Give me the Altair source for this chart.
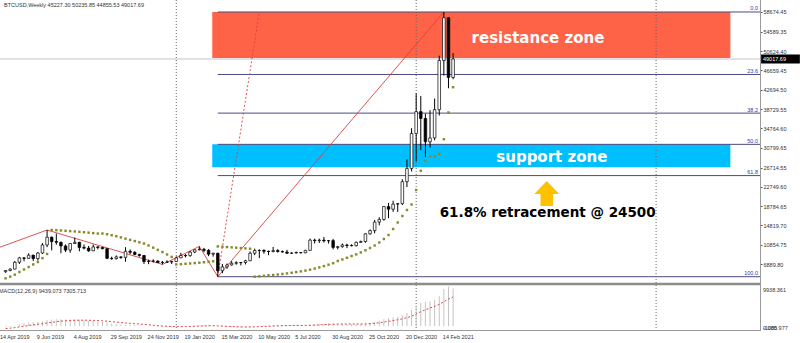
import altair as alt
import pandas as pd

# ---------------- weekly BTCUSD bars (week 0 = 21 Apr 2019) ----------------
opens = [5300, 5550, 5850, 7250, 8150, 8050, 8700, 8000, 9150, 10800,
         12400, 11500, 11350, 10600, 9750, 11100, 11350, 10300, 10150, 9600,
         10400, 10300, 10050, 8050, 8000, 8350, 8250, 9500, 9300, 8850,
         8650, 7400, 7450, 7500, 7200, 7250, 7300, 7400, 8150, 8650,
         8600, 9350, 9800, 9900, 9700, 8900, 9100, 5500, 6300, 6700,
         7050, 7150, 7200, 7550, 9100, 9650, 9700, 9500, 9450, 9650,
         9450, 9350, 9100, 9150, 9250, 9200, 9700, 11800, 11700, 11800,
         11650, 11700, 10300, 10450, 10800, 10700, 10650, 11350, 11500, 13100,
         13750, 15500, 16050, 18700, 18150, 19200, 19300, 23800, 26500, 33700,
         38200, 36800, 32000, 32800, 38600, 48700, 57500, 45227.30]
highs = [5650, 6000, 7500, 8350, 8300, 9090, 8800, 9350, 11200, 13880,
         12550, 13150, 11500, 10900, 11200, 12300, 11450, 10900, 10600, 10900,
         10550, 10400, 10100, 8400, 8650, 8450, 10350, 9900, 9500, 9000,
         8700, 7800, 7850, 7650, 7500, 7650, 7550, 8450, 9200, 8900,
         9550, 9900, 10500, 10200, 9950, 9200, 9200, 6900, 7000, 7450,
         7450, 7300, 7750, 9450, 10050, 9900, 9900, 9650, 10400, 9950,
         9650, 9800, 9300, 9450, 9350, 9800, 12100, 12100, 12100, 12450,
         11800, 12050, 10600, 11100, 11050, 10950, 11500, 11700, 13200, 14000,
         15950, 16500, 18800, 19450, 19900, 19400, 24300, 28400, 34800, 41950,
         41400, 37800, 38500, 40900, 49700, 58674.45, 57600, 50235.85]
lows = [5100, 5400, 5800, 6900, 7450, 8000, 7500, 7600, 8950, 10350,
        9700, 10850, 9100, 9350, 9200, 11000, 9500, 9900, 9400, 9550,
        9900, 9900, 7900, 7750, 7800, 7950, 7350, 8900, 8700, 8400,
        6900, 6850, 7200, 7100, 6800, 7100, 6900, 7350, 8100, 8250,
        8400, 9150, 9700, 9300, 8500, 8400, 4280, 5000, 5900, 6550,
        6750, 6600, 6800, 7500, 8700, 8100, 9000, 8700, 9300, 9250,
        9250, 8950, 8950, 9050, 9050, 9100, 9650, 11100, 11200, 11300,
        11100, 9900, 9900, 10250, 10150, 10500, 10500, 11250, 11250, 12900,
        13200, 14850, 15800, 16300, 17600, 17600, 19000, 22700, 25900, 28000,
        30300, 28900, 30800, 32300, 37400, 45600, 43000, 44855.53]
closes = [5550, 5850, 7250, 8150, 8050, 8700, 8000, 9150, 10800, 12400,
          11500, 11350, 10600, 9750, 11100, 11350, 10300, 10150, 9600, 10400,
          10300, 10050, 8050, 8000, 8350, 8250, 9500, 9300, 8850, 8650,
          7400, 7450, 7500, 7200, 7250, 7300, 7400, 8150, 8650, 8600,
          9350, 9800, 9900, 9700, 8900, 9100, 5500, 6300, 6700, 7050,
          7150, 7200, 7550, 9100, 9650, 9700, 9500, 9450, 9650, 9450,
          9350, 9100, 9150, 9250, 9200, 9700, 11800, 11700, 11800, 11650,
          11700, 10300, 10450, 10800, 10700, 10650, 11350, 11500, 13100, 13750,
          15500, 16050, 18700, 18150, 19200, 19300, 23800, 26500, 33700, 38200,
          36800, 32000, 32800, 38600, 48700, 57500, 45227.30, 49017.69]

# Parabolic SAR dots
sar = [3950, 4300, 4700, 5250, 5760, 6270, 6800, 7300, 8100, 8950,
       13880, 13840, 13780, 13720, 13650, 13580, 13500, 13420, 13330, 13240,
       13150, 13150, 13000, 12800, 12600, 12350, 12100, 11850, 11600, 11350,
       11100, 10700, 10250, 9800, 9350, 8850, 8350, 6800, 6860, 6930,
       7000, 7080, 7160, 7250, 7350, 7450, 10500, 10440, 10380, 10310,
       10240, 10170, 10100, 10030, 4280, 4360, 4460, 4570, 4630, 4730,
       4840, 4960, 5080, 5230, 5370, 5540, 5720, 5950, 6190, 6460,
       6750, 7060, 7510, 7820, 8170, 8530, 8870, 9270, 9710, 10180,
       10690, 11310, 12030, 12850, 14080, 15420, 16750, 17990, 19120, 22100,
       26060, 28120, 29000, 29080, 29500, 32520, 38020, 43220]

# MACD(12,26,9): main (histogram) and signal
macd_main = [-250, -120, 150, 450, 700, 900, 1000, 1100, 1250, 1500,
             1650, 1750, 1750, 1700, 1700, 1700, 1600, 1500, 1400, 1300,
             1200, 1100, 900, 700, 550, 420, 380, 330, 260, 180,
             30, -80, -160, -240, -290, -320, -330, -250, -150, -80,
             20, 130, 220, 270, 240, 220, -50, -200, -300, -330,
             -340, -330, -290, -170, -30, 80, 150, 200, 250, 270,
             270, 250, 230, 210, 190, 210, 350, 470, 580, 650,
             700, 660, 620, 590, 560, 520, 520, 540, 680, 850,
             1100, 1350, 1750, 1950, 2200, 2350, 2800, 3300, 4100, 5200,
             5900, 6100, 6200, 6600, 7500, 9300, 9938.361, 9439.073]
macd_signal = [-600, -500, -370, -200, -20, 160, 330, 480, 640, 800,
               970, 1120, 1250, 1340, 1410, 1470, 1500, 1500, 1480, 1450,
               1400, 1340, 1250, 1140, 1020, 900, 800, 710, 620, 530,
               430, 330, 230, 140, 50, -20, -80, -110, -120, -110,
               -90, -40, 10, 60, 90, 110, 80, 20, -40, -100,
               -150, -190, -210, -200, -170, -120, -70, -20, 30, 80,
               120, 150, 170, 180, 185, 190, 220, 270, 330, 390,
               450, 490, 520, 530, 540, 540, 535, 535, 560, 620,
               720, 850, 1030, 1210, 1410, 1600, 1840, 2130, 2530, 3060,
               3630, 4120, 4540, 4950, 5460, 6130, 6790, 7305.713]

# ZigZag pivots (week, price)
zz_week = [-22, 9, 34, 42, 46, 95]
zz_price = [3150, 13880, 6800, 10500, 4280, 58674.45]

# Fibonacci retracement anchors and levels
fib_week = [46, 55]
fib_price = [4280.0, 58674.45]
fib_ratios = [0.0, 23.6, 38.2, 50.0, 61.8, 100.0]

# Zone rectangles
zone_week = [44.8, 157.1]
zone_top = [58674.45, 31480]
zone_bottom = [49200, 26760]
zone_color = ["#FF6347", "#00BFFF"]

# Annotation texts
ann_text = ["resistance zone", "support zone", "61.8% retracement @ 24500"]
ann_week = [115.4, 118.4, 117.5]
ann_price = [53330, 28880, 17370]
ann_color = ["white", "white", "black"]
ann_size = [15, 15, 13.5]
arrow_week = [117.3]
arrow_price = [21378]

# Year separators, bid, axis labels
year_week = [37, 89, 141]
bid = 49017.69
price_ticks = [58674.45, 54589.35, 50624.40, 46659.45, 42694.50, 38729.55, 34764.60,
               30799.65, 26714.55, 22749.60, 18784.65, 14819.70, 10854.75, 6889.80, 2924.85]
date_week = [-1, 7, 15, 23, 31, 39, 47, 55, 63, 71, 79, 87, 95]
date_text = ["14 Apr 2019", "9 Jun 2019", "4 Aug 2019", "29 Sep 2019", "24 Nov 2019",
             "19 Jan 2020", "15 Mar 2020", "10 May 2020", "5 Jul 2020", "30 Aug 2020",
             "25 Oct 2020", "20 Dec 2020", "14 Feb 2021"]
header = "BTCUSD,Weekly  45227.30 50235.85 44855.53 49017.69"
macd_header = "MACD(12,26,9) 9439.073 7305.713"

# ---------------- scales ----------------
x_scale = alt.Scale(domain=[-0.123, 162.44], nice=False, zero=False)
price_scale = alt.Scale(domain=[2986.5, 61140.0], range=[283, 0], nice=False, zero=False)
macd_scale = alt.Scale(domain=[-1085.977, 9938.361], range=[330.5, 286.5], nice=False, zero=False)

SMALL = "Liberation Sans"
RED = "#D9413F"
FIB_COLOR = "#4B4B80"


def X(field):
    return alt.X(f"{field}:Q", scale=x_scale, axis=None)


def P(field, axis=None):
    return alt.Y(f"{field}:Q", scale=price_scale, axis=axis)


def M(field):
    return alt.Y(f"{field}:Q", scale=macd_scale, axis=None)


n = len(opens)
weeks = list(range(n))
candles = pd.DataFrame({"i": weeks, "open": opens, "high": highs, "low": lows, "close": closes})
sar_df = pd.DataFrame({"i": weeks, "sar": sar})
macd_df = pd.DataFrame({"i": weeks, "macd": macd_main, "signal": macd_signal, "zero": [0.0] * n})

hi, lo = fib_price[1], fib_price[0]
fib_df = pd.DataFrame({
    "ratio": fib_ratios,
    "price": [hi - r / 100.0 * (hi - lo) for r in fib_ratios],
    "label": [f"{r:.1f}" for r in fib_ratios],
    "x0": [fib_week[0]] * len(fib_ratios),
    "x1": [175] * len(fib_ratios),
})
zones = pd.DataFrame({"x0": [zone_week[0]] * 2, "x1": [zone_week[1]] * 2,
                      "top": zone_top, "bottom": zone_bottom, "color": zone_color})

layers = []

# zones
layers.append(alt.Chart(zones).mark_rect().encode(
    x=X("x0"), x2="x1", y=P("top"), y2="bottom", color=alt.Color("color:N", scale=None)))

# current price line
layers.append(alt.Chart(pd.DataFrame({"bid": [bid]})).mark_rule(color="#C4C4C4", strokeWidth=1).encode(
    y=P("bid"), x=alt.value(0), x2=alt.value(760)))

# fibonacci levels
layers.append(alt.Chart(fib_df).mark_rule(color=FIB_COLOR, strokeWidth=1, clip=True).encode(
    x=X("x0"), x2="x1", y=P("price")))
layers.append(alt.Chart(fib_df).mark_text(align="right", baseline="bottom", dy=-0.5, fontSize=5.5,
                                          font=SMALL, color="#3A3AA8").encode(
    x=alt.value(758), y=P("price"), text="label:N"))

# year separators
layers.append(alt.Chart(pd.DataFrame({"w": year_week})).mark_rule(
    color="#666666", strokeDash=[1, 2], strokeWidth=1).encode(
    x=X("w"), y=alt.value(0), y2=alt.value(331)))

# zigzag and fibonacci diagonal
layers.append(alt.Chart(pd.DataFrame({"i": zz_week, "p": zz_price})).mark_line(
    color=RED, strokeWidth=0.9, clip=True).encode(x=X("i"), y=P("p")))
layers.append(alt.Chart(pd.DataFrame({"i": fib_week, "p": fib_price})).mark_line(
    color=RED, strokeWidth=0.9, strokeDash=[2, 2], clip=True).encode(x=X("i"), y=P("p")))

# candles: wicks (carry the price axis) then bodies
price_axis = alt.Axis(orient="right", values=price_ticks, format=".2f", labelFontSize=5.5,
                      labelFont=SMALL, labelColor="#333333", tickSize=2, tickColor="#555555",
                      domain=False, grid=False, title=None, labelPadding=1, labelOverlap=False)
layers.append(alt.Chart(candles).mark_rule(color="black", strokeWidth=1).encode(
    x=X("i"), y=P("low", price_axis), y2="high"))
layers.append(alt.Chart(candles).mark_bar(size=2.6, stroke="black", strokeWidth=0.7).encode(
    x=X("i"), y=P("open"), y2="close",
    fill=alt.condition("datum.close >= datum.open", alt.value("white"), alt.value("black"))))

# parabolic SAR
layers.append(alt.Chart(sar_df).mark_square(size=6, color="#8A8A2A", opacity=1).encode(
    x=X("i"), y=P("sar")))

# annotations
ann_df = pd.DataFrame({"i": ann_week, "p": ann_price, "t": ann_text, "c": ann_color, "s": ann_size})
layers.append(alt.Chart(ann_df).mark_text(font="DejaVu Sans", fontWeight="bold",
                                          align="center", baseline="middle").encode(
    x=X("i"), y=P("p"), text="t:N", color=alt.Color("c:N", scale=None),
    size=alt.Size("s:Q", scale=None, legend=None)))
ARROW = "M0,-1L1,0.04L0.5,0.04L0.5,1L-0.5,1L-0.5,0.04L-1,0.04Z"
layers.append(alt.Chart(pd.DataFrame({"i": arrow_week, "p": arrow_price})).mark_point(
    shape=ARROW, size=620, filled=True, fill="#FFC000", strokeWidth=0, opacity=1).encode(
    x=X("i"), y=P("p")))

# MACD panel
layers.append(alt.Chart(macd_df).mark_rule(color="#C4C4C4", strokeWidth=1).encode(
    x=X("i"), y=M("zero"), y2="macd"))
layers.append(alt.Chart(macd_df).mark_line(color="#E04848", strokeWidth=1, strokeDash=[2, 2]).encode(
    x=X("i"), y=M("signal")))

# frame lines
one = pd.DataFrame({"k": [0]})
layers.append(alt.Chart(one).mark_rule(color="#8C8C8C", strokeWidth=2.4).encode(
    y=alt.value(284), x=alt.value(0), x2=alt.value(760)))
layers.append(alt.Chart(one).mark_rule(color="#9A9A9A", strokeWidth=1).encode(
    y=alt.value(330.5), x=alt.value(0), x2=alt.value(760)))
layers.append(alt.Chart(one).mark_rule(color="#9A9A9A", strokeWidth=1).encode(
    x=alt.value(760.5), y=alt.value(0), y2=alt.value(331)))

# current price tag
TAG = "M-1,-0.23L1,-0.23L1,0.23L-1,0.23Z"
bid_df = pd.DataFrame({"bid": [bid], "t": [f"{bid:.2f}"]})
layers.append(alt.Chart(bid_df).mark_point(shape=TAG, size=1500, filled=True, fill="black",
                                          strokeWidth=0, opacity=1).encode(
    x=alt.value(780.5), y=P("bid")))
layers.append(alt.Chart(bid_df).mark_text(align="left", baseline="middle", fontSize=5.5, font=SMALL,
                                         color="white").encode(
    x=alt.value(763), y=P("bid"), text="t:N"))

# MACD scale labels (max at the top, min and zero share the bottom row)
macd_lab = pd.DataFrame({"y": [289.5, 327.5, 327.5], "t": ["9938.361", "-1085.977", "0.000"]})
layers.append(alt.Chart(macd_lab).mark_text(align="left", baseline="middle", fontSize=5.5, font=SMALL,
                                           color="#333333").encode(
    x=alt.value(763), y=alt.Y("y:Q", scale=None, axis=None), text="t:N"))

# panel headers
hdr = pd.DataFrame({"t": [header, macd_header], "x": [4, -1], "y": [4.5, 290.5]})
layers.append(alt.Chart(hdr).mark_text(align="left", baseline="middle", fontSize=5.5, font=SMALL,
                                      color="#333333").encode(
    x=alt.X("x:Q", scale=None, axis=None), y=alt.Y("y:Q", scale=None, axis=None), text="t:N"))

# date labels
dates_df = pd.DataFrame({"i": date_week, "t": date_text})
layers.append(alt.Chart(dates_df).mark_text(align="left", baseline="middle", dx=-1, fontSize=5.5,
                                           font=SMALL, color="#333333").encode(
    x=X("i"), y=alt.value(337), text="t:N"))

chart = alt.layer(*layers).resolve_scale(y="independent").properties(
    width=760, height=331,
    padding={"left": 0, "top": 0, "right": 40, "bottom": 12},
    autosize=alt.AutoSizeParams(type="none"),
    background="white",
).configure_view(stroke=None)

chart.save("out.html", embed_options={"renderer": "svg", "actions": False})
